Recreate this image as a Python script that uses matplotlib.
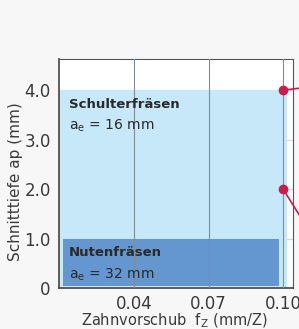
import matplotlib.pyplot as plt
from matplotlib.patches import Rectangle

plt.rcParams['mathtext.default'] = 'regular'
plt.rcParams['font.family'] = ['DejaVu Sans']

# data
feed_ticks = [0.04, 0.07, 0.10]
feed_labels = ['0.04', '0.07', '0.10']
depth_ticks = [0, 1.0, 2.0, 3.0, 4.0]
depth_labels = ['0', '1.0', '2.0', '3.0', '4.0']
shoulder_depth = 4.0
slot_depth = 1.0
feed_max = 0.10
marker_depths = [4.0, 2.0]
marker_exit_depths = [4.04, 1.47]

fig = plt.figure(figsize=(2.99, 3.29), dpi=100, facecolor='#f7f7f7')
ax = fig.add_axes([59 / 299, 41 / 329, 234 / 299, 229 / 329])
ax.set_facecolor('white')
ax.set_xlim(0.0098, 0.104)
ax.set_ylim(0, 4.63)

# grid
for y in depth_ticks[1:]:
    ax.axhline(y, color='#d3dade', lw=0.9, zorder=1)
for x in feed_ticks:
    ax.axvline(x, color='#7f8e9a', lw=0.8, zorder=3)

# shoulder milling area
ax.add_patch(Rectangle((0.0098, 0), 0.1016 - 0.0098, shoulder_depth,
                       facecolor='#c6e8f8', edgecolor='none', zorder=2))
# slot milling area
ax.add_patch(Rectangle((0.0114, 0.05), 0.0984 - 0.0114, slot_depth - 0.05,
                       facecolor='#6496cf', edgecolor='none', zorder=2))

ax.text(0.0138, 3.72, 'Schulterfräsen', fontsize=9.5, fontweight='bold',
        color='#2a2a2a', va='center', zorder=4)
ax.text(0.0138, 3.27, 'a$_e$ = 16 mm', fontsize=10, color='#2a2a2a',
        va='center', zorder=4)
ax.text(0.0138, 0.72, 'Nutenfräsen', fontsize=9.5, fontweight='bold',
        color='#2a2a2a', va='center', zorder=4)
ax.text(0.0138, 0.27, 'a$_e$ = 32 mm', fontsize=10, color='#2a2a2a',
        va='center', zorder=4)

# red markers with leader lines
for d, d2 in zip(marker_depths, marker_exit_depths):
    ax.plot([feed_max, 0.1066], [d, d2], color='#d01a4a', lw=1.2,
            clip_on=False, zorder=5)
    ax.plot(feed_max, d, 'o', color='#d01a4a', ms=6, clip_on=False, zorder=6)

ax.set_xticks(feed_ticks)
ax.set_xticklabels(feed_labels)
ax.set_yticks(depth_ticks)
ax.set_yticklabels(depth_labels)
ax.tick_params(length=0, labelsize=12, colors='#3a3a3a', pad=6)
ax.tick_params(axis='x', pad=5)
ax.set_ylabel('Schnitttiefe ap (mm)', fontsize=11, color='#3a3a3a',
              va='center')
ax.yaxis.set_label_coords(-0.188, 0.463)
ax.set_xlabel('Zahnvorschub  f$_Z$ (mm/Z)', fontsize=10.5, color='#3a3a3a',
              va='center')
ax.xaxis.set_label_coords(0.494, -0.142)

for side in ['top', 'right']:
    ax.spines[side].set_color('#555555')
    ax.spines[side].set_linewidth(0.8)
for side in ['left', 'bottom']:
    ax.spines[side].set_color('#444444')
    ax.spines[side].set_linewidth(1.2)

fig.savefig('out.png', dpi=100, facecolor=fig.get_facecolor())
